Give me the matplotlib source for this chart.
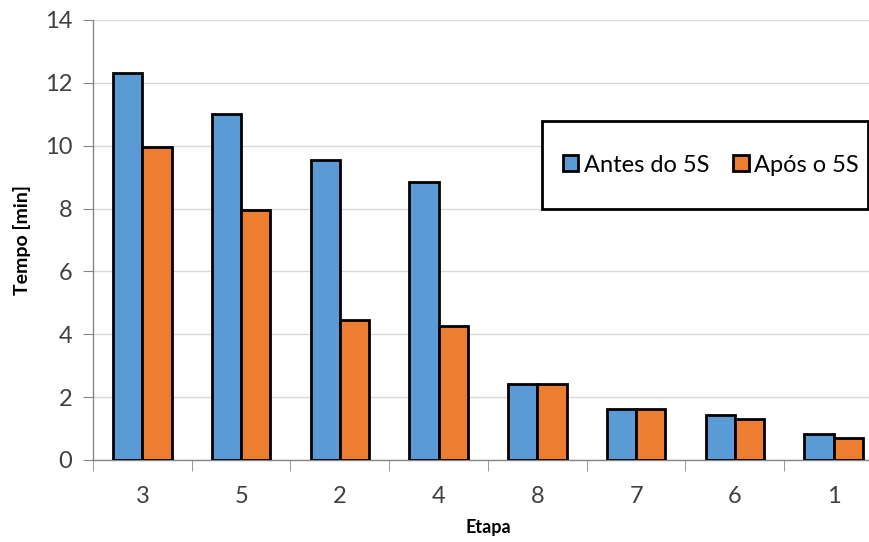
import numpy as np
import matplotlib.pyplot as plt
from matplotlib.patches import Rectangle

plt.rcParams['font.family'] = ['Lato', 'DejaVu Sans']

# Data
etapas = ["3", "5", "2", "4", "8", "7", "6", "1"]
antes = [12.32, 11.0, 9.55, 8.85, 2.43, 1.61, 1.42, 0.84]
apos = [9.95, 7.95, 4.45, 4.27, 2.43, 1.61, 1.29, 0.71]
series_names = ["Antes do 5S", "Após o 5S"]

blue = "#5B9BD5"
orange = "#ED7D31"

W, H = 870, 542
fig = plt.figure(figsize=(W / 100, H / 100), dpi=100)
ax = fig.add_axes([93 / W, (H - 460) / H, 790 / W, 440 / H])

x = np.arange(len(etapas))
w = 0.295
ax.bar(x - w / 2, antes, w, color=blue, edgecolor="black", linewidth=2,
       label=series_names[0], zorder=3)
ax.bar(x + w / 2, apos, w, color=orange, edgecolor="black", linewidth=2,
       label=series_names[1], zorder=3)

ax.set_ylim(0, 14)
ax.set_xlim(-0.5, len(etapas) - 0.5)
ax.set_yticks(np.arange(0, 15, 2))
ax.set_xticks(x)
ax.set_xticklabels(etapas)
ax.set_xticks(np.arange(-0.5, len(etapas), 1), minor=True)

ax.grid(axis="y", color="#D9D9D9", linewidth=1, zorder=0)
for s in ["top", "right"]:
    ax.spines[s].set_visible(False)
for s in ["left", "bottom"]:
    ax.spines[s].set_color("#868686")
    ax.spines[s].set_linewidth(1)

ax.tick_params(axis="y", length=7, color="#868686", labelsize=17, pad=8, labelcolor="#404040")
ax.tick_params(axis="x", which="major", length=0, labelsize=17, pad=19, labelcolor="#404040")
ax.tick_params(axis="x", which="minor", length=8, color="#868686")

ax.set_ylabel("Tempo [min]", fontsize=14, fontweight="bold", labelpad=10)
ax.set_xlabel("Etapa", fontsize=13, fontweight="bold", labelpad=8)

# legend box (wider vertical padding than horizontal, as in the original)
ax.add_patch(Rectangle((542 / W, (H - 209) / H), 326 / W, 88 / H,
                       transform=fig.transFigure, facecolor="white",
                       edgecolor="black", linewidth=2, zorder=4, clip_on=False))
leg = ax.legend(loc="center", bbox_to_anchor=((711 - 93) / 790, (460 - 165) / 440),
                ncol=2, fontsize=17, frameon=False,
                handlelength=0.65, handleheight=0.65, handletextpad=0.25,
                columnspacing=1.0)
leg.set_zorder(5)

plt.savefig("out.png", dpi=100)
